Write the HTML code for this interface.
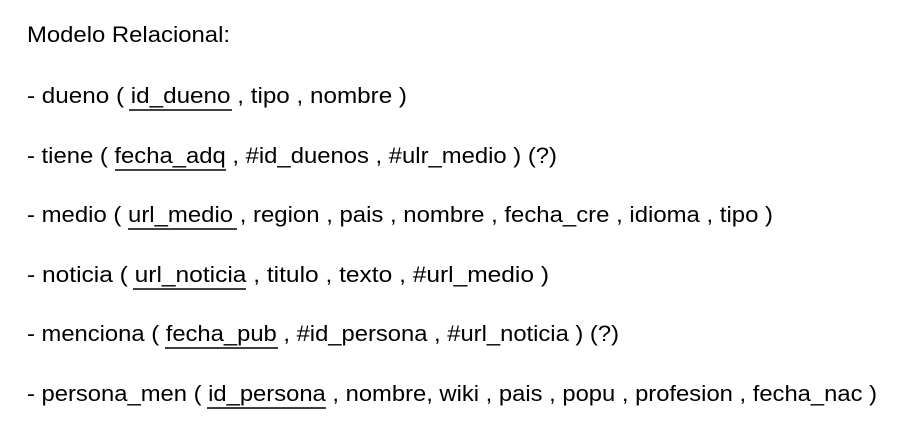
<!DOCTYPE html>
<html><head><meta charset="utf-8"><style>
html,body{margin:0;padding:0;background:#fff;width:899px;height:440px;overflow:hidden}
text{font-family:"Liberation Sans",sans-serif;font-size:22px;fill:#000}
</style></head><body>
<svg width="899" height="440" xmlns="http://www.w3.org/2000/svg">
<text x="27" y="42" textLength="203" lengthAdjust="spacingAndGlyphs">Modelo Relacional:</text>
<text x="27" y="103" textLength="380" lengthAdjust="spacingAndGlyphs">- dueno ( id_dueno , tipo , nombre )</text>
<text x="27" y="163" textLength="530" lengthAdjust="spacingAndGlyphs">- tiene ( fecha_adq , #id_duenos , #ulr_medio ) (?)</text>
<text x="27" y="222" textLength="746" lengthAdjust="spacingAndGlyphs">- medio ( url_medio , region , pais , nombre , fecha_cre , idioma , tipo )</text>
<text x="27" y="282" textLength="522" lengthAdjust="spacingAndGlyphs">- noticia ( url_noticia , titulo , texto , #url_medio )</text>
<text x="27" y="341" textLength="592" lengthAdjust="spacingAndGlyphs">- menciona ( fecha_pub , #id_persona , #url_noticia ) (?)</text>
<text x="27" y="401" textLength="850" lengthAdjust="spacingAndGlyphs">- persona_men ( id_persona , nombre, wiki , pais , popu , profesion , fecha_nac )</text>
<g stroke="#000" stroke-width="1.5">
<line x1="129" y1="110" x2="232" y2="110"/>
<line x1="115" y1="170" x2="226" y2="170"/>
<line x1="128" y1="229" x2="237" y2="229"/>
<line x1="133" y1="289" x2="246" y2="289"/>
<line x1="165" y1="348" x2="278" y2="348"/>
<line x1="207" y1="408" x2="326" y2="408"/>
</g>
</svg>
</body></html>
